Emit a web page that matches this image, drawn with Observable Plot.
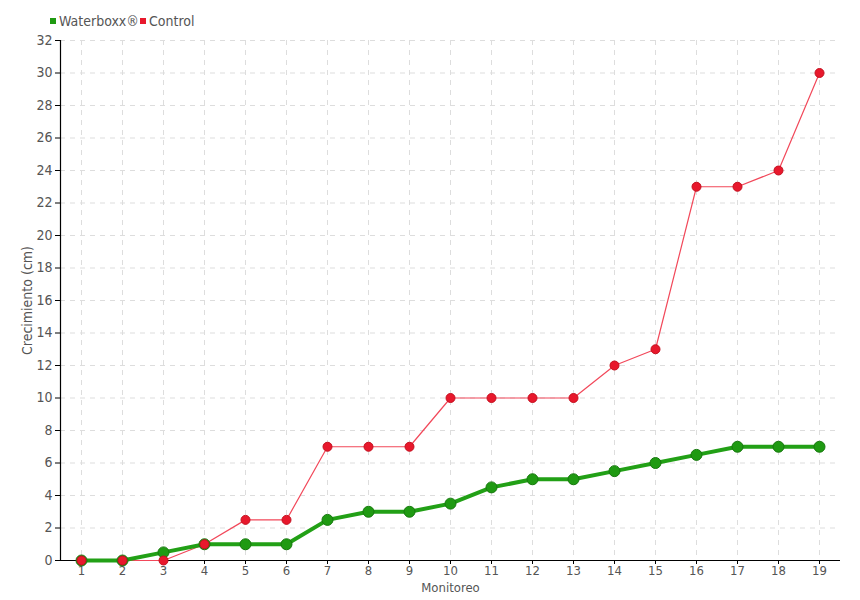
<!DOCTYPE html>
<html>
<head>
<meta charset="utf-8">
<script src="https://cdn.jsdelivr.net/npm/d3@7"></script>
<script src="https://cdn.jsdelivr.net/npm/@observablehq/plot@0.6"></script>
<style>
  body { margin: 0; background: #fff; font-family: "DejaVu Sans Condensed", "DejaVu Sans", sans-serif; font-stretch: condensed; }
  #legend { height: 30px; position: relative; font-size: 14px; color: #555; }
  #legend span.item { position: absolute; top: 13px; display: flex; align-items: center; }
  #legend i { display: inline-block; width: 6px; height: 6px; margin-right: 3px; }
  #chart svg { display: block; font-stretch: condensed; }
</style>
</head>
<body>
<div id="legend"></div>
<div id="chart"></div>
<script>
const monitoreo = [1,2,3,4,5,6,7,8,9,10,11,12,13,14,15,16,17,18,19];
const waterboxx = [0,0,0.5,1,1,1,2.5,3,3,3.5,4.5,5,5,5.5,6,6.5,7,7,7];
const control   = [0,0,0,1,2.5,2.5,7,7,7,10,10,10,10,12,13,23,23,24,30];
const yTicks = d3.range(0, 33, 2);
const seriesNames = ["Waterboxx®", "Control"];
const colors = { green: "#1f9a12", greenLine: "#22a016", red: "#e8182c", redLine: "#f2485a" };

const wData = monitoreo.map((m, i) => ({ m, v: waterboxx[i] }));
const cData = monitoreo.map((m, i) => ({ m, v: control[i] }));

// legend
const legend = document.getElementById("legend");
[[seriesNames[0], colors.green, 50], [seriesNames[1], colors.red, 140]].forEach(([name, c, left]) => {
  const s = document.createElement("span");
  s.className = "item";
  s.style.left = left + "px";
  s.innerHTML = `<i style="background:${c}"></i>${name}`;
  legend.appendChild(s);
});

const font = '"DejaVu Sans Condensed", "DejaVu Sans", sans-serif';
const chart = Plot.plot({
  width: 860,
  height: 570,
  marginLeft: 60,
  marginRight: 20,
  marginTop: 10,
  marginBottom: 40,
  style: { fontFamily: font, fontSize: "13px", color: "#555", background: "#fff" },
  x: { type: "point", domain: monitoreo, padding: 0.5 },
  y: { domain: [0, 32] },
  marks: [
    Plot.gridY(yTicks, { stroke: "#ddd", strokeOpacity: 1, strokeDasharray: "5,5" }),
    Plot.gridX(monitoreo, { stroke: "#ddd", strokeOpacity: 1, strokeDasharray: "5,5" }),
    Plot.axisY(yTicks, { tickSize: 5, stroke: "#000", fill: "#555", tickPadding: 3, fontSize: 14, label: "Crecimiento (cm)", labelAnchor: "center", labelArrow: "none", labelOffset: 38 }),
    Plot.axisX(monitoreo, { tickSize: 4, stroke: "#000", fill: "#555", tickPadding: 1, fontSize: 13, label: "Monitoreo", labelAnchor: "center", labelArrow: "none", labelOffset: 31 }),
    Plot.ruleY([0], { stroke: "#000", strokeWidth: 1.2 }),
    Plot.frame({ anchor: "left", stroke: "#000", strokeWidth: 1.2 }),
    Plot.line(cData, { x: "m", y: "v", stroke: colors.redLine, strokeWidth: 1.2 }),
    Plot.line(wData, { x: "m", y: "v", stroke: colors.greenLine, strokeWidth: 4 }),
    Plot.dot(wData, { x: "m", y: "v", r: 5.5, fill: colors.green, stroke: "#17780e", strokeWidth: 1 }),
    Plot.dot(cData, { x: "m", y: "v", r: 4.5, fill: colors.red, stroke: "#c4101f", strokeWidth: 1 })
  ]
});
document.getElementById("chart").appendChild(chart);
</script>
</body>
</html>
